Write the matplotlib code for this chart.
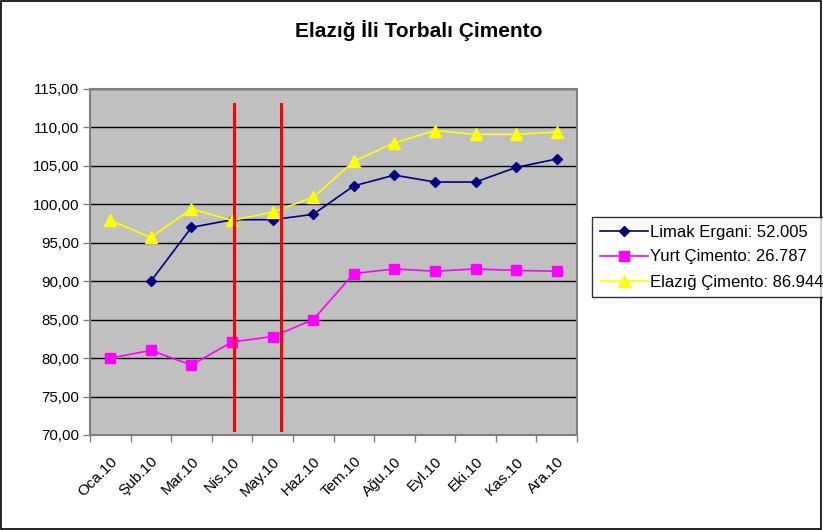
import matplotlib.pyplot as plt
import numpy as np
from matplotlib.patches import Rectangle

plt.rcParams["font.family"] = ["Liberation Sans", "DejaVu Sans"]

months = ["Oca.10", "Şub.10", "Mar.10", "Nis.10", "May.10", "Haz.10",
          "Tem.10", "Ağu.10", "Eyl.10", "Eki.10", "Kas.10", "Ara.10"]
limak = [np.nan, 90.0, 97.0, 98.0, 98.0, 98.7, 102.4, 103.8, 102.9, 102.9, 104.8, 105.9]
yurt = [80.0, 81.0, 79.1, 82.1, 82.8, 85.0, 91.0, 91.6, 91.3, 91.6, 91.4, 91.3]
elazig = [97.9, 95.7, 99.4, 97.9, 99.0, 100.9, 105.6, 108.0, 109.6, 109.1, 109.1, 109.4]
labels = ["Limak Ergani: 52.005", "Yurt Çimento: 26.787", "Elazığ Çimento: 86.944"]
red_x = [3.05, 4.2]
red_y = [70.6, 113.1]

fig = plt.figure(figsize=(8.23, 5.30), dpi=100)
ax = fig.add_axes([90 / 823, 1 - 435 / 530, (577 - 90) / 823, (435 - 89) / 530])
ax.set_facecolor("#c0c0c0")

x = np.arange(len(months))
ax.plot(x, limak, color="#000080", marker="D", markersize=5.5, lw=1.2, label=labels[0])
ax.plot(x, yurt, color="#ff00ff", marker="s", markersize=6.5, lw=1.2, label=labels[1])
ax.plot(x, elazig, color="#ffff00", marker="^", markersize=8, lw=1.2, label=labels[2])

for rx in red_x:
    ax.plot([rx, rx], red_y, color="#ff0000", lw=2.2, zorder=5)

ax.set_xlim(-0.5, len(months) - 0.5)
ax.set_ylim(70, 115)
ax.set_yticks(np.arange(70, 116, 5))
ax.set_yticklabels([f"{v:.2f}".replace(".", ",") for v in np.arange(70, 116, 5)], fontsize=10.8)
ax.yaxis.grid(True, color="black", lw=1)
ax.set_axisbelow(True)

ax.set_xticks(np.arange(-0.5, len(months), 1))
ax.set_xticklabels([])
ax.set_xticks(x, minor=True)
ax.set_xticklabels(months, minor=True, rotation=45, ha="right", rotation_mode="anchor", fontsize=11)
ax.tick_params(axis="x", which="minor", length=0, pad=14)
ax.tick_params(axis="x", which="major", length=5, color="#808080", width=1)
ax.tick_params(axis="y", length=5, color="#808080", width=1, pad=3)

for side in ["left", "bottom", "right", "top"]:
    ax.spines[side].set_color("#808080")
    ax.spines[side].set_linewidth(1.5)

fig.text(419 / 823, 1 - 31 / 530, "Elazığ İli Torbalı Çimento", ha="center", va="center",
         fontsize=15, fontweight="bold")

leg = fig.legend(loc="upper left", bbox_to_anchor=(592 / 823, 1 - 217 / 530),
                 fontsize=12, frameon=True, fancybox=False, borderpad=0.45,
                 handlelength=2.9, handletextpad=0.15, labelspacing=0.6, borderaxespad=0)
leg.get_frame().set_edgecolor("black")
leg.get_frame().set_linewidth(1)

fig.patches.append(Rectangle((0.001, 0.002), 0.997, 0.996, transform=fig.transFigure,
                             fill=False, edgecolor="black", lw=1.2))

fig.savefig("out.png", dpi=100)
